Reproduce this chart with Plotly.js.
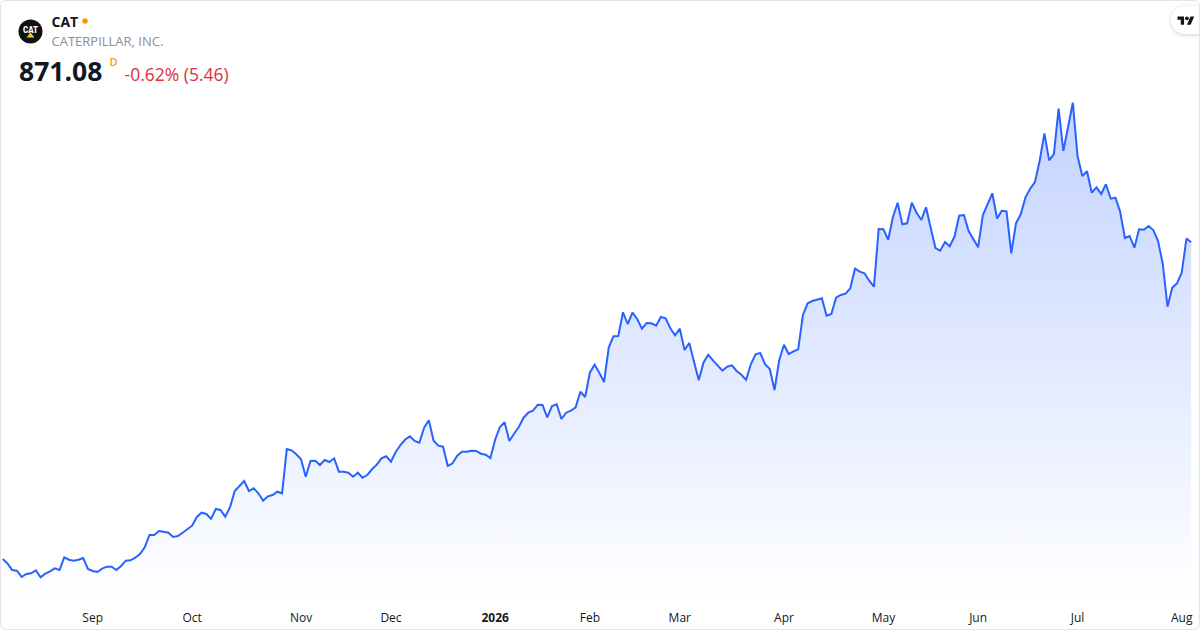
<!DOCTYPE html>
<html>
<head>
<meta charset="utf-8">
<script src="https://cdn.plot.ly/plotly-3.0.1.min.js"></script>
<style>
  html, body { margin:0; padding:0; background:#ffffff; }
  #wrap { position:relative; width:1200px; height:630px; overflow:hidden; font-family:"Open Sans", "Noto Sans", sans-serif; }
  #chart { position:absolute; left:0; top:0; width:1200px; height:630px; }
  #frame { position:absolute; left:0; top:0; width:1198px; height:628px; border:1px solid #e0e3eb; border-radius:6px; pointer-events:none; }
  #overlay { position:absolute; left:0; top:0; pointer-events:none; }
  #tvpill { position:absolute; left:1171px; top:6px; width:44px; height:28px; background:#fff; border-radius:14px; box-shadow:0 1px 4px rgba(0,0,0,0.18); }
</style>
</head>
<body>
<div id="wrap">
  <div id="chart"></div>
  <div id="tvpill"></div>
  <svg id="overlay" width="1200" height="630" xmlns="http://www.w3.org/2000/svg">
    <circle cx="30.5" cy="31.5" r="12" fill="#111111"/>
    <text x="30.5" y="33" text-anchor="middle" font-family="Roboto, sans-serif" font-weight="900" font-size="8.5" fill="#ffffff" textLength="15" lengthAdjust="spacingAndGlyphs">CAT</text>
    <polygon points="26.5,37.5 34.5,37.5 30.5,32.5" fill="#ffcd11"/>
    <text x="51.5" y="26.7" font-family="Open Sans, sans-serif" font-weight="700" font-size="14" fill="#131722">CAT</text>
    <circle cx="85" cy="21" r="2.8" fill="#ff9800"/>
    <text x="51.5" y="45.7" font-family="Open Sans, sans-serif" font-size="13" fill="#8a8d96">CATERPILLAR, INC.</text>
    <text x="19" y="80.5" font-family="Open Sans, sans-serif" font-weight="700" font-size="26.5" fill="#131722">871.08</text>
    <text x="109.5" y="65.5" font-family="Open Sans, sans-serif" font-weight="600" font-size="11" fill="#ff9800">D</text>
    <text x="124.5" y="80.5" font-family="Open Sans, sans-serif" font-size="17.5" fill="#dc2f3e">-0.62% (5.46)</text>
    <g transform="translate(1177.5,14.5) scale(0.47)" fill="#131722">
      <path d="M14 22H7V11H0V4h14v18zM28 22h-8l7.5-18h8L28 22z"/>
      <circle cx="20" cy="8" r="4"/>
    </g>
  </svg>
  <div id="frame"></div>
</div>
<script>
// Trading days (category axis)
const dates = [
"2025-08-05","2025-08-06","2025-08-07","2025-08-08","2025-08-11","2025-08-12","2025-08-13","2025-08-14","2025-08-15","2025-08-18","2025-08-19","2025-08-20","2025-08-21","2025-08-22","2025-08-25","2025-08-26","2025-08-27","2025-08-28","2025-08-29",
"2025-09-02","2025-09-03","2025-09-04","2025-09-05","2025-09-08","2025-09-09","2025-09-10","2025-09-11","2025-09-12","2025-09-15","2025-09-16","2025-09-17","2025-09-18","2025-09-19","2025-09-22","2025-09-23","2025-09-24","2025-09-25","2025-09-26","2025-09-29","2025-09-30",
"2025-10-01","2025-10-02","2025-10-03","2025-10-06","2025-10-07","2025-10-08","2025-10-09","2025-10-10","2025-10-13","2025-10-14","2025-10-15","2025-10-16","2025-10-17","2025-10-20","2025-10-21","2025-10-22","2025-10-23","2025-10-24","2025-10-27","2025-10-28","2025-10-29","2025-10-30","2025-10-31",
"2025-11-03","2025-11-04","2025-11-05","2025-11-06","2025-11-07","2025-11-10","2025-11-11","2025-11-12","2025-11-13","2025-11-14","2025-11-17","2025-11-18","2025-11-19","2025-11-20","2025-11-21","2025-11-24","2025-11-25","2025-11-26","2025-11-28",
"2025-12-01","2025-12-02","2025-12-03","2025-12-04","2025-12-05","2025-12-08","2025-12-09","2025-12-10","2025-12-11","2025-12-12","2025-12-15","2025-12-16","2025-12-17","2025-12-18","2025-12-19","2025-12-22","2025-12-23","2025-12-24","2025-12-26","2025-12-29","2025-12-30","2025-12-31",
"2026-01-02","2026-01-05","2026-01-06","2026-01-07","2026-01-08","2026-01-09","2026-01-12","2026-01-13","2026-01-14","2026-01-15","2026-01-16","2026-01-20","2026-01-21","2026-01-22","2026-01-23","2026-01-26","2026-01-27","2026-01-28","2026-01-29","2026-01-30",
"2026-02-02","2026-02-03","2026-02-04","2026-02-05","2026-02-06","2026-02-09","2026-02-10","2026-02-11","2026-02-12","2026-02-13","2026-02-17","2026-02-18","2026-02-19","2026-02-20","2026-02-23","2026-02-24","2026-02-25","2026-02-26","2026-02-27",
"2026-03-02","2026-03-03","2026-03-04","2026-03-05","2026-03-06","2026-03-09","2026-03-10","2026-03-11","2026-03-12","2026-03-13","2026-03-16","2026-03-17","2026-03-18","2026-03-19","2026-03-20","2026-03-23","2026-03-24","2026-03-25","2026-03-26","2026-03-27","2026-03-30","2026-03-31",
"2026-04-01","2026-04-02","2026-04-06","2026-04-07","2026-04-08","2026-04-09","2026-04-10","2026-04-13","2026-04-14","2026-04-15","2026-04-16","2026-04-17","2026-04-20","2026-04-21","2026-04-22","2026-04-23","2026-04-24","2026-04-27","2026-04-28","2026-04-29","2026-04-30",
"2026-05-01","2026-05-04","2026-05-05","2026-05-06","2026-05-07","2026-05-08","2026-05-11","2026-05-12","2026-05-13","2026-05-14","2026-05-15","2026-05-18","2026-05-19","2026-05-20","2026-05-21","2026-05-22","2026-05-26","2026-05-27","2026-05-28","2026-05-29",
"2026-06-01","2026-06-02","2026-06-03","2026-06-04","2026-06-05","2026-06-08","2026-06-09","2026-06-10","2026-06-11","2026-06-12","2026-06-15","2026-06-16","2026-06-17","2026-06-18","2026-06-22","2026-06-23","2026-06-24","2026-06-25","2026-06-26","2026-06-29","2026-06-30",
"2026-07-01","2026-07-02","2026-07-06","2026-07-07","2026-07-08","2026-07-09","2026-07-10","2026-07-13","2026-07-14","2026-07-15","2026-07-16","2026-07-17","2026-07-20","2026-07-21","2026-07-22","2026-07-23","2026-07-24","2026-07-27","2026-07-28","2026-07-29","2026-07-30","2026-07-31",
"2026-08-03","2026-08-04","2026-08-05"
];

// Daily close, USD
const closes = [
410.41,404.15,394.41,393.39,384.23,388.59,389.61,393.97,383.79,389.03,
392.52,396.88,394.41,412.88,409.39,407.94,409.39,411.86,395.86,392.95,
391.50,396.30,399.21,399.21,394.41,400.23,407.94,408.52,412.30,417.68,
427.43,445.32,445.32,451.14,450.12,448.66,442.41,443.86,448.66,454.05,
458.85,471.50,477.75,475.86,469.03,483.14,481.68,471.94,485.61,509.32,
516.59,523.86,509.32,513.25,505.97,495.21,501.61,503.50,508.30,505.97,
570.41,568.52,562.70,555.43,530.12,552.95,553.39,547.14,554.41,551.50,
556.88,537.39,537.39,535.94,530.12,535.94,528.66,532.59,540.88,547.57,
556.88,559.79,551.94,566.05,576.23,584.23,588.88,582.05,579.57,601.39,
612.15,582.48,575.21,573.75,545.68,549.61,560.66,566.48,566.48,567.94,
567.50,563.57,562.12,557.32,583.94,602.41,609.25,582.05,592.66,602.41,
615.94,623.21,626.12,634.85,634.41,616.52,632.95,635.43,614.05,623.21,
626.12,631.06,653.75,646.05,681.39,693.03,681.39,667.86,718.34,734.34,
734.77,769.25,752.23,768.66,759.50,745.39,753.68,753.25,749.75,762.41,
760.52,745.97,735.79,745.39,714.41,724.59,697.39,670.34,695.94,707.57,
699.43,692.15,684.30,690.12,692.15,683.86,678.48,671.21,693.61,708.15,
710.05,693.61,686.77,656.23,699.86,722.12,708.59,712.52,715.43,765.32,
782.34,785.68,787.14,789.61,764.30,766.77,790.48,794.41,796.30,804.15,
832.66,828.30,825.97,815.21,806.48,890.41,889.97,874.85,907.43,928.66,
897.25,898.70,928.66,914.12,903.50,921.97,891.43,862.77,858.85,871.50,
865.25,879.21,909.75,910.77,887.50,875.43,863.79,910.77,926.77,942.34,
905.68,916.88,916.15,855.06,898.70,911.79,936.52,949.03,958.77,989.75,
1029.61,990.34,999.50,1065.39,1003.86,1041.68,1074.12,996.59,967.50,974.34,
943.21,951.06,941.32,955.43,934.48,935.94,915.57,877.32,880.23,863.21,
889.97,889.39,894.77,888.95,872.95,839.50,777.39,805.03,811.43,826.85,
876.54,871.08
];

// Month tick positions and labels
const tickDates = ["2025-09-02","2025-10-01","2025-11-03","2025-12-01","2026-01-02","2026-02-02","2026-03-02","2026-04-01","2026-05-01","2026-06-01","2026-07-01","2026-08-03"];
const tickLabels = ["Sep","Oct","Nov","Dec","<b>2026</b>","Feb","Mar","Apr","May","Jun","Jul","Aug"];

const trace = {
  type: 'scatter',
  mode: 'lines',
  x: dates,
  y: closes,
  line: { color: '#2962FF', width: 2, shape: 'linear' },
  fill: 'tozeroy',
  fillgradient: {
    type: 'vertical',
    start: 350,
    stop: 1074,
    colorscale: [[0, 'rgba(41,98,255,0.0)'], [1, 'rgba(41,98,255,0.28)']]
  },
  hoverinfo: 'x+y'
};

const layout = {
  width: 1200,
  height: 630,
  margin: { l: 0, r: 0, t: 0, b: 30, pad: 0 },
  paper_bgcolor: 'rgba(0,0,0,0)',
  plot_bgcolor: 'rgba(0,0,0,0)',
  showlegend: false,
  xaxis: {
    type: 'category',
    range: [-0.57, 252.86],
    showgrid: false,
    zeroline: false,
    showline: false,
    ticks: '',
    tickmode: 'array',
    tickvals: tickDates,
    ticktext: tickLabels,
    tickfont: { family: 'Open Sans, sans-serif', size: 12, color: '#131722' },
    ticklabelstandoff: 9,
    fixedrange: true
  },
  yaxis: {
    visible: false,
    range: [350.77, 1223.5],
    showgrid: false,
    zeroline: false,
    fixedrange: true
  }
};

Plotly.newPlot('chart', [trace], layout, { displayModeBar: false, staticPlot: true });
</script>
</body>
</html>
